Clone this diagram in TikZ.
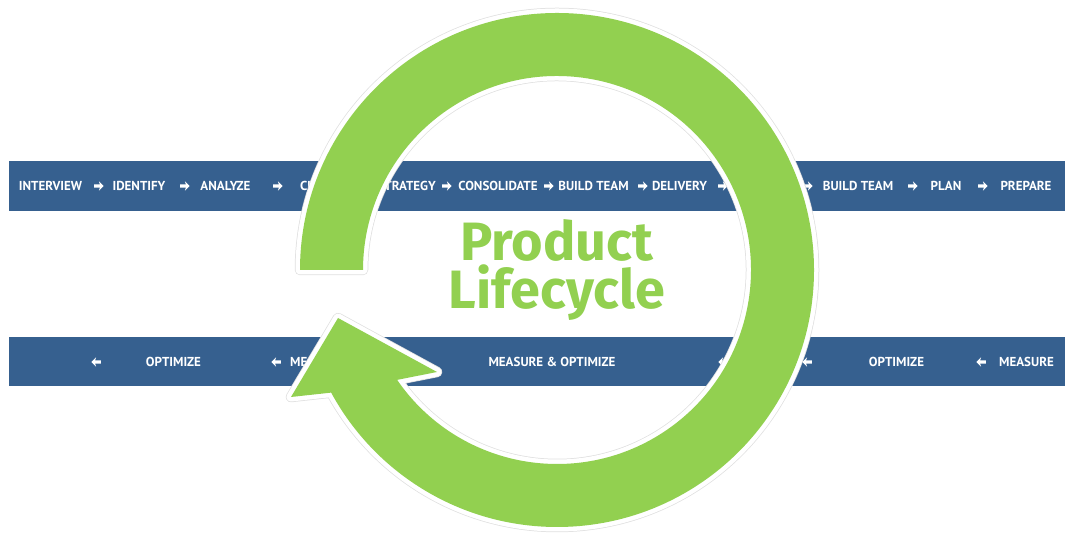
\documentclass[tikz,border=0pt]{standalone}
\usepackage{fontspec}
\setmainfont{PT Sans}
\newfontfamily\titlefont{Fira Sans}
\usetikzlibrary{shapes.arrows,calc}
\definecolor{bandblue}{HTML}{36608F}
\definecolor{cyclegreen}{HTML}{92D050}

\begin{document}
\begin{tikzpicture}[x=1pt,y=1pt,
        band/.style={fill=bandblue,draw=none},
        stage/.style={text=white,font=\bfseries\fontsize{13}{15}\selectfont,inner sep=0pt,text height=9pt,text depth=0pt},
        rtip/.style={single arrow,fill=white,draw=none,inner sep=1.5pt,minimum height=9.5pt,minimum width=0pt,
          single arrow head extend=3pt,single arrow head indent=1pt},
        ltip/.style={rtip,shape border rotate=180},
        title/.style={text=cyclegreen,font=\titlefont\bfseries\fontsize{54}{48}\selectfont,inner sep=0pt,align=center}]
        \useasboundingbox (0,0) rectangle (1065,534);
        % the two bands
        \fill[band] (9,323) rectangle (1065,373);
        \fill[band] (9,148) rectangle (1065,197);
        % upper band
        \node[stage] (interview) at (50.5,348) {INTERVIEW};
        \node[rtip] (t1) at (98,348) {};
        \node[stage] (identify) at (139,348) {IDENTIFY};
        \node[rtip] (t2) at (184,348) {};
        \node[stage] (analyze) at (225.5,348) {ANALYZE};
        \node[rtip] (t3) at (277,348) {};
        \node[stage,anchor=west] (change) at (300,348) {CHANGE};
        \node[stage,anchor=east] (strategy) at (436,348) {STRATEGY};
        \node[rtip] (t4) at (446,348) {};
        \node[stage] (consolidate) at (498,348) {CONSOLIDATE};
        \node[rtip] (t5) at (548,348) {};
        \node[stage] (team1) at (593.5,348) {BUILD TEAM};
        \node[rtip] (t6) at (642,348) {};
        \node[stage] (delivery) at (679.5,348) {DELIVERY};
        \node[rtip] (t7) at (722,348) {};
        \node[rtip] (t8) at (807,348) {};
        \node[stage] (team2) at (858,348) {BUILD TEAM};
        \node[rtip] (t9) at (912,348) {};
        \node[stage] (plan) at (946,348) {PLAN};
        \node[rtip] (t10) at (982,348) {};
        \node[stage] (prepare) at (1026,348) {PREPARE};
        % lower band
        \node[ltip] (b1) at (97,172) {};
        \node[stage] (optimize1) at (173.5,172) {OPTIMIZE};
        \node[ltip] (b2) at (277,172) {};
        \node[stage,anchor=west] (measure1) at (290,172) {MEASURE};
        \node[stage] (measopt) at (552,172) {MEASURE \& OPTIMIZE};
        \node[ltip] (b3) at (724,172) {};
        \node[ltip] (b4) at (808,172) {};
        \node[stage] (optimize2) at (896.5,172) {OPTIMIZE};
        \node[ltip] (b5) at (982,172) {};
        \node[stage] (measure2) at (1026.5,172) {MEASURE};
        % the cycle arrow
        \coordinate (c) at (557,264);
        \coordinate (wl) at (291,137);
        \coordinate (tip) at (338,216);
        \coordinate (wr) at (437,162);
        \newcommand\cyclepath{($(c)+(180:257)$) arc[start angle=180,end angle=-151.5,radius=257]
          -- (wl) -- (tip) -- (wr) -- ($(c)+(-145.5:194)$) arc[start angle=-145.5,end angle=180,radius=194] -- cycle}
        \draw[black!12,line width=10.5pt,line join=round] \cyclepath;
        \draw[white,line width=9pt,line join=round] \cyclepath;
        \fill[cyclegreen] \cyclepath;
        \node[title] (product) at (557,263.5) {Product\\Lifecycle};
\end{tikzpicture}
\end{document}
